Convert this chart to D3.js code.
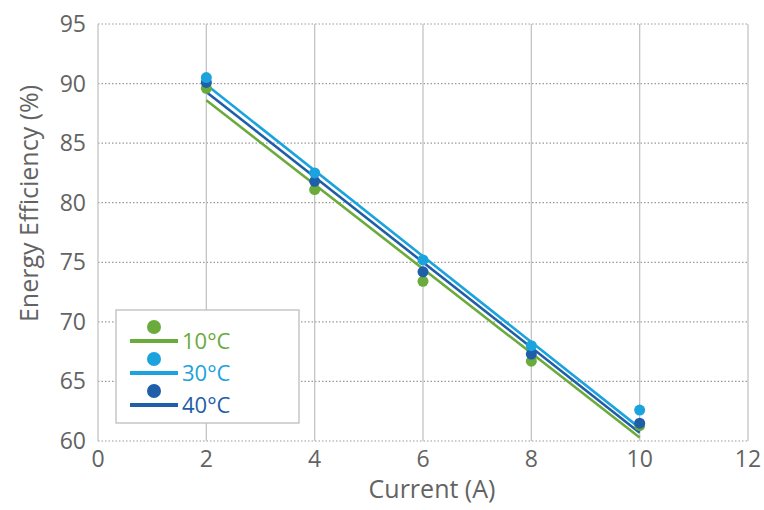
<!DOCTYPE html>
<meta charset="utf-8" />
<script src="https://d3js.org/d3.v7.min.js"></script>
<style>
  body { margin: 0; background: #fff; }
  text { font-family: "Open Sans", Lato, sans-serif; }
</style>
<div id="my_dataviz"></div>
<script>
  // data
  const currents = [2, 4, 6, 8, 10];
  const eff10 = [89.6, 81.1, 73.4, 66.7, 61.3];
  const eff30 = [90.5, 82.5, 75.2, 68.0, 62.6];
  const eff40 = [90.1, 81.8, 74.2, 67.3, 61.5];
  // trend lines, values at current 2 and 10 as drawn in the reference
  const trendX = [2, 10];
  const trend10 = [88.6, 60.3];
  const trend30 = [89.9, 61.1];
  const trend40 = [89.3, 60.7];
  const seriesNames = ["10°C", "30°C", "40°C"];
  const xTicks = [0, 2, 4, 6, 8, 10, 12];
  const yTicks = [60, 65, 70, 75, 80, 85, 90, 95];

  const colors = ["#6aab3b", "#1ba3dd", "#1f5ea8"];
  const series = [
    { name: seriesNames[0], values: eff10, trend: trend10, color: colors[0] },
    { name: seriesNames[1], values: eff30, trend: trend30, color: colors[1] },
    { name: seriesNames[2], values: eff40, trend: trend40, color: colors[2] },
  ];

  const margin = { top: 24, right: 16, bottom: 69, left: 98 },
    width = 764 - margin.left - margin.right,
    height = 510 - margin.top - margin.bottom;

  const svg = d3
    .select("#my_dataviz")
    .append("svg")
    .attr("width", 764)
    .attr("height", 510)
    .append("g")
    .attr("transform", `translate(${margin.left}, ${margin.top})`);

  const x = d3.scaleLinear().domain([0, 12]).range([0, width]);
  const y = d3.scaleLinear().domain([60, 95]).range([height, 0]);

  // horizontal dotted grid
  svg
    .selectAll(".hgrid")
    .data(yTicks)
    .join("line")
    .attr("x1", 0)
    .attr("x2", width)
    .attr("y1", (d) => y(d))
    .attr("y2", (d) => y(d))
    .attr("stroke", "#9a9a9a")
    .attr("stroke-width", 1.2)
    .attr("stroke-dasharray", "1.5,2");

  // vertical solid grid
  svg
    .selectAll(".vgrid")
    .data(xTicks)
    .join("line")
    .attr("x1", (d) => x(d))
    .attr("x2", (d) => x(d))
    .attr("y1", 0)
    .attr("y2", height)
    .attr("stroke", "#c4c4c4")
    .attr("stroke-width", 1.3);

  // tick labels
  svg
    .selectAll(".ylab")
    .data(yTicks)
    .join("text")
    .attr("x", -12)
    .attr("y", (d) => y(d))
    .attr("dy", "0.35em")
    .attr("text-anchor", "end")
    .attr("fill", "#636363")
    .style("font-size", "23px")
    .text((d) => d);

  svg
    .selectAll(".xlab")
    .data(xTicks)
    .join("text")
    .attr("x", (d) => x(d))
    .attr("y", height + 26)
    .attr("text-anchor", "middle")
    .attr("fill", "#636363")
    .style("font-size", "23px")
    .text((d) => d);

  // axis titles
  svg
    .append("text")
    .attr("x", width / 2 + 9)
    .attr("y", height + 57)
    .attr("text-anchor", "middle")
    .attr("fill", "#636363")
    .style("font-size", "25px")
    .text("Current (A)");

  svg
    .append("text")
    .attr("transform", `translate(-60, ${height / 2 - 29}) rotate(-90)`)
    .attr("text-anchor", "middle")
    .attr("fill", "#636363")
    .style("font-size", "25px")
    .text("Energy Efficiency (%)");

  const line = d3.line().x((d) => x(d[0])).y((d) => y(d[1]));

  series.forEach((s) => {
    svg
      .append("path")
      .datum(trendX.map((v, i) => [v, s.trend[i]]))
      .attr("fill", "none")
      .attr("stroke", s.color)
      .attr("stroke-width", 2.6)
      .attr("d", line);
  });

  // points drawn 10, 40, 30 order so light blue sits on top
  [series[0], series[2], series[1]].forEach((s) => {
    svg
      .selectAll(null)
      .data(currents)
      .join("circle")
      .attr("cx", (d) => x(d))
      .attr("cy", (d, i) => y(s.values[i]))
      .attr("r", 5.5)
      .attr("fill", s.color);
  });

  // legend
  const legend = svg.append("g").attr("transform", "translate(18, 286)");
  legend
    .append("rect")
    .attr("width", 183)
    .attr("height", 113)
    .attr("fill", "#fff")
    .attr("stroke", "#bdbdbd")
    .attr("stroke-width", 1.3);

  series.forEach((s, i) => {
    const g = legend.append("g").attr("transform", `translate(0, ${10 + i * 32})`);
    g.append("circle").attr("cx", 38).attr("cy", 7).attr("r", 7).attr("fill", s.color);
    g.append("line")
      .attr("x1", 14)
      .attr("x2", 62)
      .attr("y1", 21)
      .attr("y2", 21)
      .attr("stroke", s.color)
      .attr("stroke-width", 4);
    g.append("text")
      .attr("x", 66)
      .attr("y", 21)
      .attr("dy", "0.35em")
      .attr("fill", s.color)
      .style("font-size", "22px")
      .text(s.name);
  });
</script>
